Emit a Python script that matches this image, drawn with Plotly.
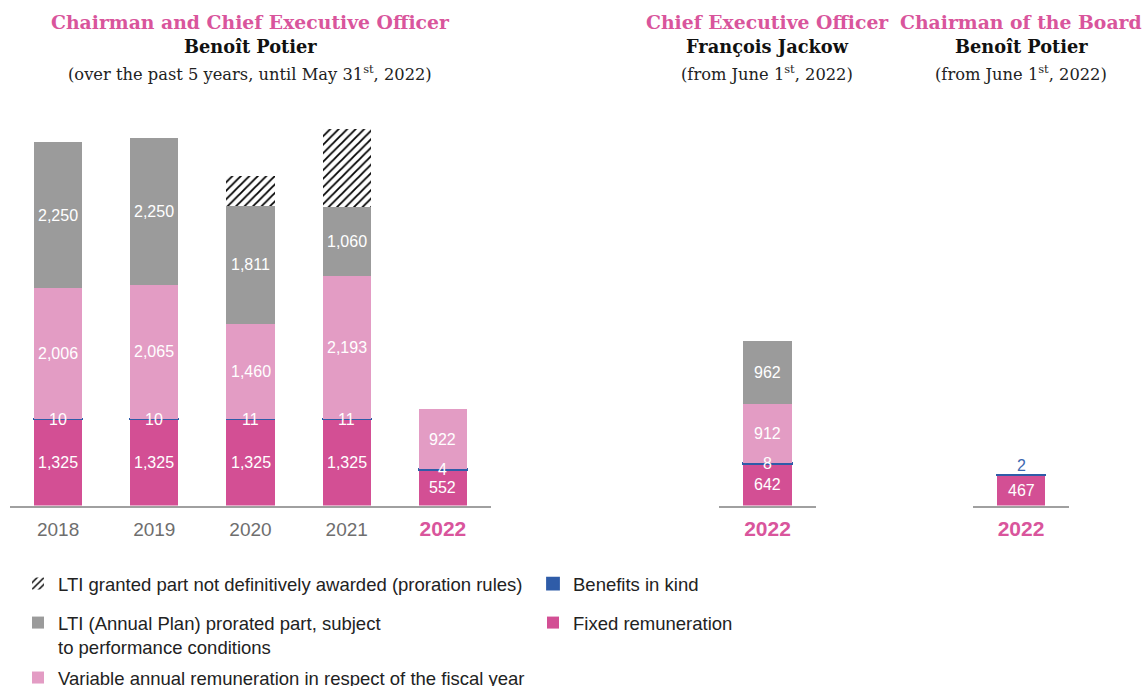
import plotly.graph_objects as go

# ---- data (thousand euros) ----
years = ["2018", "2019", "2020", "2021", "2022"]
fixed = [1325, 1325, 1325, 1325, 552]
benefits = [10, 10, 11, 11, 4]
variable = [2006, 2065, 1460, 2193, 922]
lti = [2250, 2250, 1811, 1060, 0]
lti_not_awarded = [0, 0, 455, 1210, 0]

ceo_cat = ["2022"]
ceo_fixed = [642]
ceo_benefits = [8]
ceo_variable = [912]
ceo_lti = [962]

chair_cat = ["2022"]
chair_fixed = [467]
chair_benefits = [2]

# ---- styling ----
W, H = 1144, 686
C_FIXED = "#d34f94"
C_BENEF = "#2f5ca8"
C_VAR = "#e39cc4"
C_LTI = "#9b9b9b"
C_TITLE = "#d9559c"
C_TICK = "#6e6e6e"
C_AXIS = "#a0a0a0"
SANS = "Liberation Sans, Arial, sans-serif"
SERIF = "DejaVu Serif, serif"

Y_MAX = 7000
BASE_PX = 505.5
TOP_PX = 50.5
y_dom = [(H - BASE_PX) / H, (H - TOP_PX) / H]

x_doms = [[10 / W, 491 / W], [719 / W, 816 / W], [973 / W, 1069 / W]]

fig = go.Figure()

series = [
    ("Fixed remuneration", C_FIXED, "legend2", 2),
    ("Benefits in kind", C_BENEF, "legend2", 1),
    ("Variable annual remuneration in respect of the fiscal year", C_VAR, "legend3", 1),
    ("LTI (Annual Plan) prorated part, subject<br>to performance conditions", C_LTI, "legend", 2),
    ("LTI granted part not definitively awarded (proration rules)", None, "legend", 1),
]

panels = [
    ("x", years, [fixed, benefits, variable, lti, lti_not_awarded]),
    ("x2", ceo_cat, [ceo_fixed, ceo_benefits, ceo_variable, ceo_lti, None]),
    ("x3", chair_cat, [chair_fixed, chair_benefits, None, None, None]),
]

for p_i, (xa, cats, vals) in enumerate(panels):
    for s_i, (name, color, leg, rank) in enumerate(series):
        v = vals[s_i]
        if v is None:
            continue
        kw = dict(
            x=cats, y=v, name=name, xaxis=xa, yaxis="y", width=0.5,
            showlegend=(p_i == 0), legend=leg, legendrank=rank, legendgroup=name,
            hoverinfo="skip",
        )
        if color is None:
            marker = dict(color="white",
                          pattern=dict(shape="/", fgcolor="#000000", bgcolor="white",
                                       fgopacity=1, size=6, solidity=0.3),
                          line=dict(width=0))
        elif color == C_BENEF:
            marker = dict(color=color, line=dict(color=color, width=1.8))
        else:
            marker = dict(color=color, line=dict(width=0))
        fig.add_trace(go.Bar(marker=marker, **kw))

# ---- value labels (category axes: positions given as category index) ----
def add_label(xa, idx, y, text, color="white", size=16, yshift=0, yanchor="middle"):
    fig.add_annotation(x=idx, y=y, xref=xa, yref="y", text=text, showarrow=False,
                       font=dict(family=SANS, size=size, color=color),
                       xanchor="center", yshift=yshift, yanchor=yanchor)

def fmt(v):
    return f"{v:,}"

for xa, cats, vals in panels:
    for i, cat in enumerate(cats):
        base = 0
        for s_i, v in enumerate(vals):
            if v is None:
                continue
            val = v[i]
            if s_i == 4 or val == 0:
                base += val
                continue
            if s_i == 1 and xa == "x3":
                add_label(xa, i, base + val, fmt(val), color="#3d67b0",
                          yanchor="bottom", yshift=-1)
            else:
                add_label(xa, i, base + val / 2, fmt(val))
            base += val

# ---- titles ----
def px_y(p):
    return (H - p) / H

titles = [
    (250, "Chairman and Chief Executive Officer", "Benoît Potier",
     "(over the past 5 years, until May 31<sup>st</sup>, 2022)"),
    (767, "Chief Executive Officer", "François Jackow",
     "(from June 1<sup>st</sup>, 2022)"),
    (1021, "Chairman of the Board", "Benoît Potier",
     "(from June 1<sup>st</sup>, 2022)"),
]
for cx, t1, t2, t3 in titles:
    for ypx, txt, size, col in [(22, f"<b>{t1}</b>", 18.8, C_TITLE),
                                (47, f"<b>{t2}</b>", 17.8, "#111111"),
                                (73, t3, 16.3, "#222222")]:
        fig.add_annotation(x=cx / W, y=px_y(ypx), xref="paper", yref="paper", text=txt,
                           showarrow=False, xanchor="center", yanchor="middle",
                           font=dict(family=SERIF, size=size, color=col))

# ---- axes ----
def ticktext(cats):
    return [f"<span style='color:{C_TITLE};font-size:21px'><b>{c}</b></span>"
            if c == "2022" else c for c in cats]

axis_common = dict(type="category", showline=True, linecolor=C_AXIS, linewidth=1.5,
                   showgrid=False, zeroline=False, ticks="", ticklabelstandoff=6,
                   automargin=False, autorange=False,
                   tickfont=dict(family=SANS, size=19, color=C_TICK), fixedrange=True)

leg_font = dict(family=SANS, size=18.5, color="#222222")
leg_common = dict(xanchor="left", yanchor="top", font=leg_font, valign="top",
                  maxheight=200, itemclick=False, itemdoubleclick=False)

fig.update_layout(
    xaxis=dict(domain=x_doms[0], anchor="y", categoryorder="array", categoryarray=years,
               range=[-0.5, len(years) - 0.5],
               tickvals=years, ticktext=ticktext(years), **axis_common),
    xaxis2=dict(domain=x_doms[1], anchor="y", categoryorder="array", categoryarray=ceo_cat,
                range=[-0.5, 0.5],
                tickvals=ceo_cat, ticktext=ticktext(ceo_cat), **axis_common),
    xaxis3=dict(domain=x_doms[2], anchor="y", categoryorder="array", categoryarray=chair_cat,
                range=[-0.5, 0.5],
                tickvals=chair_cat, ticktext=ticktext(chair_cat), **axis_common),
    yaxis=dict(domain=y_dom, range=[0, Y_MAX], visible=False, fixedrange=True),
    barmode="stack",
    width=W, height=H,
    margin=dict(l=0, r=0, t=0, b=0, autoexpand=False),
    paper_bgcolor="white", plot_bgcolor="white",
    legend=dict(x=18 / W, y=px_y(565), tracegroupgap=12, **leg_common),
    legend2=dict(x=533 / W, y=px_y(565), tracegroupgap=12, **leg_common),
    legend3=dict(x=18 / W, y=px_y(659), tracegroupgap=0, **leg_common),
)

fig.write_html("out.html")
